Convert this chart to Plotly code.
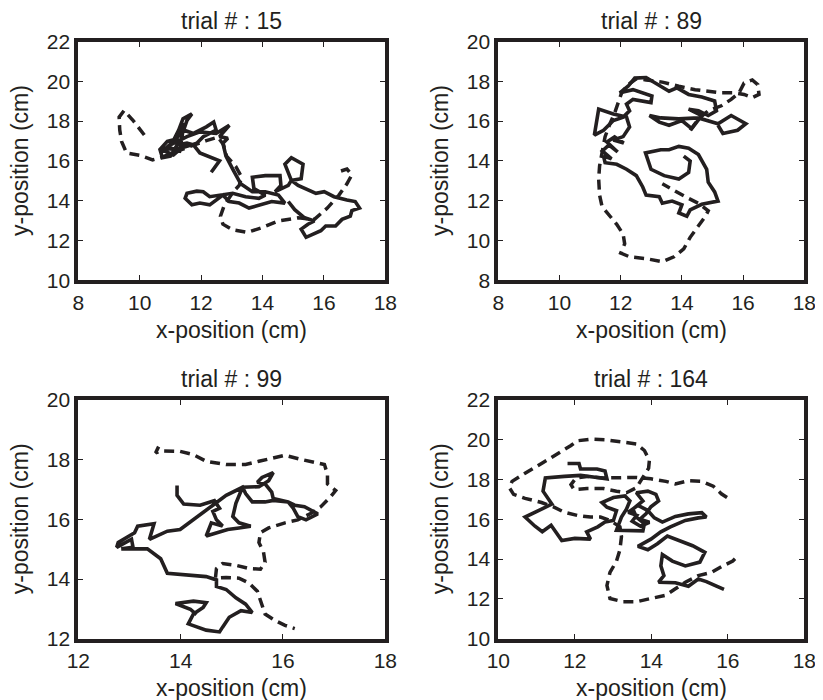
import plotly.graph_objects as go

INK = "#231f20"
# the page body adds an 8px margin, so the figure is 8px smaller than the window on each visible side
OFF = 8
W, H = 823 - OFF, 700 - OFF

trial_titles = ["trial # : 15", "trial # : 89", "trial # : 99", "trial # : 164"]

# ---------------- trial 15 ----------------
t15_solid_x = [12.33, 12.60, 11.96, 11.75, 11.54, 11.22, 11.00, 10.74, 10.66, 10.90, 11.11, 11.27, 11.41, 11.70,
               11.54, 11.43, 11.75, 12.17, 12.41, 12.49, 12.07, 11.86, 11.54, 11.16, 10.79, 10.68,
               11.05, 10.80, 11.10, 11.40, 11.20, 10.90, 11.30, 11.45, 11.30,
               11.00, 11.54,
               11.96, 12.49, 12.92, 12.60, 12.87, 12.71, 12.81, 13.03, 13.29, 13.67, 14.09, 14.52, 14.73, 14.30,
               13.88, 13.56, 13.24, 12.92, 12.71, 12.49, 12.28, 11.96, 11.70, 11.48, 11.54, 11.86, 12.07, 12.28,
               12.60, 13.03, 13.45, 13.88, 14.09, 13.72, 13.67, 14.09, 14.57, 14.60, 14.41, 14.84, 14.94, 15.26,
               15.32, 14.94, 14.73, 14.84, 14.94, 15.16, 15.42, 15.74, 16.01, 16.33, 16.75, 17.02, 17.16, 16.91,
               16.86, 16.59, 16.38, 16.06, 15.90, 15.64, 15.42, 15.26, 15.48, 15.69, 15.37, 15.05, 14.84]
t15_solid_y = [15.43, 16.00, 16.40, 16.81, 16.89, 16.81, 16.24, 16.16, 16.57, 16.98, 17.06, 17.55, 18.12, 18.36,
               18.04, 17.55, 17.38, 17.71, 17.95, 17.55, 17.22, 16.89, 16.73, 16.57, 16.65, 16.40,
               16.90, 16.50, 16.30, 16.70, 17.10, 16.70, 16.50, 17.90, 17.30,
               16.81, 17.22,
               17.46, 17.38, 17.79, 17.22, 17.14, 16.89, 16.24, 15.59, 14.85, 14.45, 14.45, 14.28, 13.88, 13.96,
               13.79, 13.63, 13.88, 13.96, 14.28, 14.04, 13.79, 13.88, 13.79, 14.12, 14.37, 14.48, 14.45, 14.20,
               14.28, 14.37, 14.20, 14.12, 14.28, 14.61, 15.18, 15.26, 15.26, 14.77, 14.45, 14.77, 15.02, 15.10,
               15.83, 16.16, 15.83, 15.43, 15.02, 14.77, 14.61, 14.37, 14.45, 14.20, 14.04, 13.96, 13.63, 13.50,
               13.22, 13.06, 12.73, 12.73, 12.49, 12.33, 12.16, 12.57, 12.82, 12.98, 13.14, 13.55, 13.96]
t15_dash_x = [10.15, 9.78, 9.49, 9.33, 9.35, 9.41, 9.57, 10.04, 10.42, 10.68, 11.22, 11.75, 12.17, 12.55, 12.73,
              12.83, 13.13, 13.32, 13.24, 13.05, 12.76, 12.63, 12.71, 13.03, 13.51, 13.99, 14.52, 15.16, 15.69,
              16.11, 16.49, 16.75, 16.91, 16.75, 16.49]
t15_dash_y = [17.30, 18.04, 18.53, 18.20, 17.55, 16.98, 16.40, 16.27, 16.05, 16.16, 16.49, 16.81, 17.02, 17.19,
              16.81, 16.24, 15.72, 15.18, 14.77, 14.45, 13.79, 13.22, 12.82, 12.54, 12.41, 12.65, 12.98, 13.14,
              13.06, 13.63, 14.28, 14.85, 15.30, 15.59, 15.46]

# ---------------- trial 89 ----------------
t89_solid_x = [14.06, 14.27, 14.22, 13.90, 13.42, 12.99, 12.81, 13.04, 13.31, 13.58, 13.90, 14.22, 14.54, 14.81,
               14.86, 15.07, 15.18, 14.65, 14.27, 14.16, 13.90, 14.00, 13.68, 13.36, 13.26, 12.83, 12.72, 12.51,
               12.19, 11.87, 11.49, 11.44, 11.70, 11.40, 11.62, 11.90, 11.55, 11.80, 12.10, 11.76, 12.08, 12.29,
               12.19, 11.76, 11.28, 11.14, 11.44, 11.76,
               12.08, 12.29, 12.19, 12.40, 12.72, 12.99, 13.02, 12.72, 12.40, 12.19, 11.97, 12.24, 12.46, 12.83,
               13.15, 13.58, 13.84, 14.22, 14.65, 15.07, 15.13, 14.86, 14.54, 14.22, 14.65, 14.32, 14.00, 13.58,
               13.26, 12.94, 13.31, 13.90, 14.54, 15.18, 15.61, 16.09, 15.82, 15.34, 15.18]
t89_solid_y = [14.24, 13.99, 13.42, 13.09, 13.26, 13.58, 14.40, 14.48, 14.56, 14.56, 14.73, 14.64, 14.32, 13.58,
               12.93, 12.44, 11.98, 11.82, 11.54, 11.22, 11.38, 11.79, 11.98, 11.87, 12.20, 12.28, 12.69, 13.26,
               13.58, 13.83, 13.91, 14.24, 14.10, 14.50, 14.80, 14.45, 14.95, 15.20, 14.90, 15.05, 15.22, 15.71,
               16.20, 16.36, 16.60, 15.30, 15.54, 16.03,
               16.20, 16.52, 16.85, 17.09, 17.01, 16.93, 17.26, 17.42, 17.58, 17.50, 17.42, 17.75, 18.16, 18.19,
               17.91, 17.50, 17.67, 17.34, 17.21, 17.01, 16.52, 16.28, 16.52, 16.60, 16.28, 15.62, 16.03, 15.79,
               15.95, 16.28, 16.16, 16.11, 16.16, 15.87, 16.28, 15.87, 15.54, 15.38, 15.79]
t89_dash_x = [14.27, 14.54, 14.86, 15.29, 15.61, 15.87, 16.03, 16.30, 16.48, 16.52, 16.30, 16.03, 15.71, 15.29,
              14.86, 14.43, 13.90, 13.36, 12.83, 12.51, 12.24, 12.03, 11.92, 11.81, 11.65, 11.49, 11.39, 11.31,
              11.28, 11.31, 11.39, 11.60, 11.87, 12.08, 12.13, 12.00, 12.29, 12.83, 13.36, 13.74, 14.06, 14.27,
              14.54, 14.77, 14.86, 14.54, 14.11, 13.79, 13.36]
t89_dash_y = [15.54, 16.11, 16.52, 16.77, 17.09, 17.42, 17.91, 18.07, 17.83, 17.34, 17.18, 17.34, 17.42, 17.42,
              17.50, 17.58, 17.75, 17.96, 18.07, 18.12, 17.83, 17.42, 16.93, 16.44, 15.87, 15.22, 14.40, 13.75,
              13.09, 12.28, 11.71, 11.30, 10.81, 10.32, 9.83, 9.37, 9.18, 9.09, 8.93, 9.18, 9.58, 10.16,
              10.73, 11.22, 11.49, 11.87, 12.20, 12.47, 12.85]

# ---------------- trial 99 ----------------
t99_solid_x = [13.93, 13.93, 14.06, 14.38, 14.66, 14.76, 14.63, 14.70, 14.82, 14.60, 14.50, 14.92, 15.14, 15.37,
               15.14, 15.02, 15.08, 15.21, 15.53, 15.72, 15.81, 15.59, 15.50, 15.65, 15.78, 15.81, 16.10, 16.23,
               16.42, 16.61, 16.68, 16.45, 16.29, 16.20, 16.10, 15.81, 15.65, 15.40, 15.27, 15.21, 14.89, 14.63,
               14.25, 13.99, 13.74, 13.39, 13.48, 13.16, 13.10, 12.78, 12.75, 13.04, 13.07, 12.84, 13.35, 13.61,
               13.74, 14.12, 14.50, 14.70, 14.70, 14.89, 15.08, 15.27, 15.40, 15.18, 14.95, 14.82, 14.76, 14.50,
               14.15, 14.25, 14.44, 14.50, 14.25, 13.90, 14.19, 14.31]
t99_solid_y = [17.13, 16.80, 16.51, 16.47, 16.62, 16.37, 16.26, 15.98, 15.77, 15.88, 15.44, 15.66, 15.71, 15.77,
               15.88, 16.09, 16.53, 17.07, 17.09, 17.29, 17.56, 17.40, 17.24, 17.18, 16.91, 16.69, 16.58, 16.47,
               16.42, 16.26, 16.18, 15.98, 16.09, 16.37, 16.58, 16.63, 16.58, 16.58, 16.86, 17.07, 16.80, 16.47,
               15.98, 15.66, 15.60, 15.33, 15.85, 15.77, 15.55, 15.22, 15.06, 15.33, 15.06, 15.01, 15.01, 14.68,
               14.19, 14.13, 14.08, 13.97, 13.75, 13.65, 13.37, 13.16, 12.88, 12.94, 12.72, 12.39, 12.23, 12.29,
               12.50, 12.83, 13.05, 13.21, 13.26, 13.18, 12.99, 12.81]
t99_dash_x = [13.57, 13.51, 13.61, 13.99, 14.25, 14.50, 14.89, 15.27, 15.53, 15.78, 16.04, 16.36, 16.81, 16.87,
              16.87, 17.03, 16.93, 16.74, 16.55, 16.29, 16.04, 15.72, 15.56, 15.53, 15.62, 15.65, 15.56, 15.34,
              15.08, 14.82, 14.70, 14.68, 14.89, 15.14, 15.34, 15.50, 15.59, 15.65, 15.85, 16.04, 16.23]
t99_dash_y = [18.43, 18.22, 18.29, 18.27, 18.16, 17.94, 17.83, 17.83, 17.94, 18.05, 18.14, 18.00, 17.83, 17.51,
              17.18, 16.96, 16.75, 16.42, 16.20, 15.98, 15.88, 15.71, 15.55, 15.22, 14.90, 14.57, 14.33, 14.35,
              14.46, 14.52, 14.35, 14.03, 14.05, 14.03, 13.86, 13.59, 13.16, 12.83, 12.61, 12.45, 12.34]

# ---------------- trial 164 ----------------
t164_solid_x = [11.81, 12.11, 12.15, 12.58, 12.79, 12.84, 12.58, 12.15, 11.73, 11.23, 11.17, 11.40, 11.09, 10.70,
                10.96, 11.15, 11.38, 11.57, 11.66, 12.00, 12.41, 12.31, 12.60, 12.79, 13.01, 13.09, 12.84, 12.71,
                13.01, 13.31, 13.44, 13.35, 13.22, 13.09, 13.52, 13.78, 13.82, 13.61, 13.52, 13.78, 13.61, 13.91,
                14.12, 14.19, 13.99, 13.86,
                13.70, 13.95, 13.72, 13.50, 13.62, 13.40, 13.65, 13.90,
                14.08, 14.29, 14.63, 14.97, 15.32, 15.44, 15.23, 14.89, 14.50, 14.25,
                13.99, 13.65, 13.91, 14.16, 14.42, 14.72, 15.08, 15.40, 15.27, 14.89, 14.55, 14.29, 14.25, 14.33,
                14.19, 14.63, 14.97, 15.23, 15.44, 15.66, 15.90]
t164_solid_y = [18.80, 18.80, 18.52, 18.52, 18.42, 18.03, 18.10, 18.20, 18.15, 18.07, 17.41, 16.76, 16.47, 16.11,
                15.65, 15.37, 15.70, 15.13, 14.93, 15.04, 15.00, 15.37, 15.62, 15.86, 15.94, 16.43, 16.60, 16.84,
                17.09, 17.17, 16.92, 16.51, 16.11, 15.45, 15.42, 15.42, 15.78, 16.11, 16.51, 16.92, 17.33, 17.41,
                17.25, 16.92, 16.63, 16.27,
                16.00, 15.85, 15.65, 15.90, 16.20, 16.35, 16.70, 16.45,
                16.07, 15.86, 16.14, 16.27, 16.33, 16.11, 16.07, 15.94, 15.62, 15.37,
                15.00, 14.64, 14.47, 14.77, 15.16, 14.93, 14.67, 14.34, 13.85, 13.66, 13.90, 14.23, 13.66, 13.17,
                12.84, 12.81, 12.64, 13.00, 12.87, 12.68, 12.48]
t164_dash_x = [15.98, 15.83, 15.62, 15.32, 14.97, 14.63, 14.38, 13.99, 13.61, 13.18, 12.75, 12.32, 12.03, 11.90,
               11.98, 12.32, 12.75, 13.09, 13.35, 13.61, 13.78, 13.93, 13.95, 13.82, 13.61, 13.26, 12.84, 12.41,
               12.07, 11.90, 11.56, 11.13, 10.70, 10.36, 10.29, 10.40, 10.70, 11.13, 11.43, 11.73, 12.07, 12.41,
               12.67, 12.92, 13.18, 13.22, 13.18, 13.09, 12.92, 12.84, 12.92, 13.26, 13.61, 14.03, 14.38, 14.63,
               14.89, 15.23, 15.57, 15.87, 16.13, 16.24]
t164_dash_y = [17.09, 17.28, 17.66, 17.90, 17.93, 17.77, 17.90, 18.03, 18.10, 18.07, 18.07, 18.15, 18.07, 17.74,
               17.49, 17.54, 17.54, 17.41, 17.33, 17.58, 18.07, 18.56, 18.96, 19.45, 19.78, 19.86, 19.98, 20.02,
               19.94, 19.70, 19.29, 18.80, 18.31, 17.90, 17.58, 17.25, 17.05, 16.84, 16.63, 16.35, 16.19, 16.11,
               16.11, 15.94, 15.62, 15.13, 14.47, 13.90, 13.33, 12.68, 12.02, 11.86, 11.86, 12.02, 12.19, 12.51,
               12.84, 13.17, 13.33, 13.66, 13.90, 14.11]

# axis ranges and ticks
x_ranges = [[8, 18], [8, 18], [12, 18], [10, 18]]
y_ranges = [[10, 22], [8, 20], [12, 20], [10, 22]]
x_ticks = [[8, 10, 12, 14, 16, 18], [8, 10, 12, 14, 16, 18], [12, 14, 16, 18], [10, 12, 14, 16, 18]]
y_ticks = [[10, 12, 14, 16, 18, 20, 22], [8, 10, 12, 14, 16, 18, 20], [12, 14, 16, 18, 20],
           [10, 12, 14, 16, 18, 20, 22]]
x_title = "x-position (cm)"
y_title = "y-position (cm)"

solids = [(t15_solid_x, t15_solid_y), (t89_solid_x, t89_solid_y), (t99_solid_x, t99_solid_y),
          (t164_solid_x, t164_solid_y)]
dashes = [(t15_dash_x, t15_dash_y), (t89_dash_x, t89_dash_y), (t99_dash_x, t99_dash_y),
          (t164_dash_x, t164_dash_y)]

# plot-area boxes in window pixels (inner edge of the frame): (left, right, top, bottom)
boxes = [(78.3, 385.3, 41.5, 280.3), (498.3, 804.3, 41.5, 280.3),
         (78.3, 385.3, 399.7, 638.8), (498.3, 804.3, 399.7, 638.8)]


def px_x(p):
    return (p - OFF) / W


def px_y(p):
    return 1 - (p - OFF) / H


fig = go.Figure()
FONT = "Liberation Sans, Arial, Helvetica, sans-serif"
TICK_FS = 21
LAB_FS = 23
annotations = []
for i in range(4):
    xa = "x" if i == 0 else f"x{i+1}"
    ya = "y" if i == 0 else f"y{i+1}"
    dx, dy = dashes[i]
    sx, sy = solids[i]
    fig.add_trace(go.Scatter(x=dx, y=dy, mode="lines", xaxis=xa, yaxis=ya, showlegend=False,
                             line=dict(color=INK, width=3.5, dash="10px,6px")))
    fig.add_trace(go.Scatter(x=sx, y=sy, mode="lines", xaxis=xa, yaxis=ya, showlegend=False,
                             line=dict(color=INK, width=3.6)))
    l, r, t, b = boxes[i]
    common = dict(ticks="inside", ticklen=5, tickwidth=1, tickcolor=INK, showline=True, linewidth=4,
                  linecolor=INK, mirror="ticks", showgrid=False, zeroline=False, automargin=False,
                  tickfont=dict(family=FONT, size=TICK_FS, color=INK))
    fig.layout[f"xaxis{'' if i == 0 else i+1}"] = dict(
        domain=[px_x(l), px_x(r)], range=x_ranges[i], tickvals=x_ticks[i], anchor=ya, **common)
    fig.layout[f"yaxis{'' if i == 0 else i+1}"] = dict(
        domain=[px_y(b), px_y(t)], range=y_ranges[i], tickvals=y_ticks[i], anchor=xa, **common)
    cx = (l + r) / 2
    cy = (t + b) / 2
    # text centres (window pixels)
    annotations.append(dict(text=trial_titles[i], x=px_x(cx), y=px_y(t - 20.5), xref="paper", yref="paper",
                            showarrow=False, xanchor="center", yanchor="middle", borderpad=0,
                            font=dict(family=FONT, size=LAB_FS, color=INK)))
    annotations.append(dict(text=x_title, x=px_x(cx), y=px_y(b + 49.5), xref="paper", yref="paper",
                            showarrow=False, xanchor="center", yanchor="middle", borderpad=0,
                            font=dict(family=FONT, size=LAB_FS, color=INK)))
    annotations.append(dict(text=y_title, x=px_x(l - 58.3), y=px_y(cy), xref="paper", yref="paper",
                            showarrow=False, xanchor="center", yanchor="middle", textangle=-90, borderpad=0,
                            font=dict(family=FONT, size=LAB_FS, color=INK)))

fig.update_layout(width=W, height=H, margin=dict(l=0, r=0, t=0, b=0), paper_bgcolor="white",
                  plot_bgcolor="white", annotations=annotations, showlegend=False, template="none")

fig.write_html("out.html")
